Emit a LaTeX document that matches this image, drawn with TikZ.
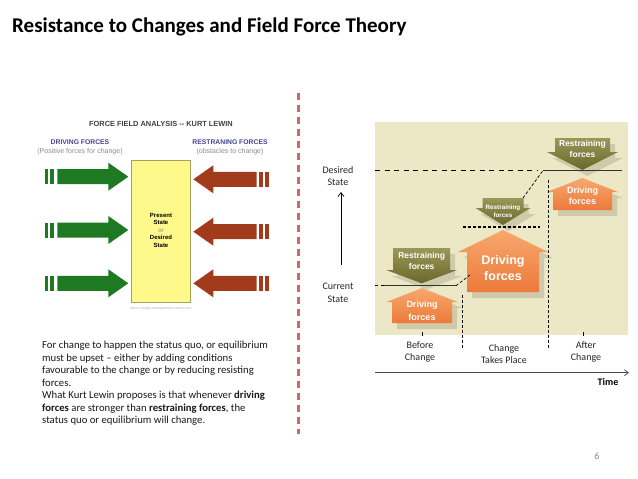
\documentclass[tikz,border=0pt]{standalone}
\usepackage{fontspec}
\setmainfont{Carlito}
\newfontfamily\arialf{Liberation Sans}
\usetikzlibrary{arrows.meta}
\definecolor{redline}{HTML}{CC6A6A}
\definecolor{ffgreen}{HTML}{1E7A22}
\definecolor{ffbrown}{HTML}{A23A1C}
\definecolor{ffblue}{HTML}{45458F}
\definecolor{panel}{HTML}{ECE7C4}
\definecolor{olivetop}{HTML}{9A9858}
\definecolor{olivebot}{HTML}{6A672A}
\definecolor{orangetop}{HTML}{F7A86E}
\definecolor{orangebot}{HTML}{EC7A3A}
\newcommand{\ffdown}[7]{%
  \fill[black,opacity=0.12] ({#1-#2+5},{#4+6}) -- ({#1+#2+5},{#4+6}) -- ({#1+#2+5},{#5+6}) -- ({#1+#3+5},{#5+6}) -- ({#1+5},{#6+6}) -- ({#1-#3+5},{#5+6}) -- ({#1-#2+5},{#5+6}) -- cycle;
  \shade[#7] ({#1-#2},#4) -- ({#1+#2},#4) -- ({#1+#2},#5) -- ({#1+#3},#5) -- (#1,#6) -- ({#1-#3},#5) -- ({#1-#2},#5) -- cycle;}
\newcommand{\ffup}[7]{%
  \fill[black,opacity=0.12] ({#1-#2+5},{#4+6}) -- ({#1+#2+5},{#4+6}) -- ({#1+#2+5},{#5+6}) -- ({#1+#3+5},{#5+6}) -- ({#1+5},{#6+6}) -- ({#1-#3+5},{#5+6}) -- ({#1-#2+5},{#5+6}) -- cycle;
  \shade[#7] ({#1-#2},#4) -- ({#1+#2},#4) -- ({#1+#2},#5) -- ({#1+#3},#5) -- (#1,#6) -- ({#1-#3},#5) -- ({#1-#2},#5) -- cycle;}
\newcommand{\greenarrow}[1]{%
  \fill[ffgreen] (45,{#1-7.5}) rectangle (48.3,{#1+7.5});
  \fill[ffgreen] (50,{#1-7.5}) rectangle (54,{#1+7.5});
  \fill[ffgreen] (57.3,{#1-7.5}) -- (108.3,{#1-7.5}) -- (108.3,{#1-14}) -- (128.3,#1) -- (108.3,{#1+14}) -- (108.3,{#1+7.5}) -- (57.3,{#1+7.5}) -- cycle;}
\newcommand{\brownarrow}[1]{%
  \fill[ffbrown] (265.3,{#1-7.5}) rectangle (269.3,{#1+7.5});
  \fill[ffbrown] (259.3,{#1-7.5}) rectangle (263.3,{#1+7.5});
  \fill[ffbrown] (256.7,{#1-7.5}) -- (213.3,{#1-7.5}) -- (213.3,{#1-14}) -- (193.3,#1) -- (213.3,{#1+14}) -- (213.3,{#1+7.5}) -- (256.7,{#1+7.5}) -- cycle;}
\tikzset{
  restr/.style={top color=olivetop,bottom color=olivebot},
  driv/.style={top color=orangetop,bottom color=orangebot},
  arrtext/.style={text=white,font=\arialf\bfseries,align=center,inner sep=0pt},
  lbl/.style={font=\fontsize{10}{12.5}\selectfont,align=center,inner sep=0pt,text=black!85},
  levelsolid/.style={line width=1.3pt,draw=black!80},
}
\begin{document}
\begin{tikzpicture}[x=1pt,y=-1pt]
\useasboundingbox[fill=white] (0,0) rectangle (638,479);
% title
\node[anchor=west,inner sep=0pt,font=\fontsize{21}{24}\selectfont\bfseries] (title) at (12,27) {Resistance to Changes and Field Force Theory};
% red separator
\draw[redline,line width=2.5pt,dash pattern=on 7pt off 5pt] (298.5,93) -- (298.5,434);
% ---------- left force field image
\node[font=\arialf\bfseries\fontsize{7.4}{8}\selectfont,text=black!75,inner sep=0pt] (fftitle) at (161,124) {FORCE FIELD ANALYSIS -- KURT LEWIN};
\node[font=\arialf\bfseries\fontsize{6.8}{8}\selectfont,text=ffblue,inner sep=0pt] (dfh) at (80,141.7) {DRIVING FORCES};
\node[font=\arialf\fontsize{7}{8}\selectfont,text=black!45,inner sep=0pt] (dfs) at (80,151.7) {(Positive forces for change)};
\node[font=\arialf\bfseries\fontsize{6.8}{8}\selectfont,text=ffblue,inner sep=0pt] (rfh) at (230,141.7) {RESTRANING FORCES};
\node[font=\arialf\fontsize{7}{8}\selectfont,text=black!45,inner sep=0pt] (rfs) at (230,151.7) {(obstacles to change)};
\draw[fill=yellow!45,draw=black!35!yellow!70!gray,line width=0.8pt] (131.7,160.7) rectangle (190,302.7);
\node[font=\arialf\fontsize{6}{7.5}\selectfont,align=center,inner sep=0pt] (state) at (161,230) {\textbf{Present}\\\textbf{State}\\{\color{black!50}or}\\\textbf{Desired}\\\textbf{State}};
\node[font=\arialf\fontsize{3.6}{4}\selectfont,text=black!30,inner sep=0pt] (web) at (161,309) {www.change-management-coach.com};
\greenarrow{176.7}
\greenarrow{230}
\greenarrow{283.3}
\brownarrow{179.3}
\brownarrow{231.7}
\brownarrow{283.3}
% ---------- left text
\node[anchor=north west,align=left,inner sep=0pt,font=\fontsize{10.7}{12.5}\selectfont,text=black!90] (body) at (42,341) {For change to happen the status quo, or equilibrium\\must be upset -- either by adding conditions\\favourable to the change or by reducing resisting\\forces.\\What Kurt Lewin proposes is that whenever \textbf{driving}\\\textbf{forces} are stronger than \textbf{restraining forces}, the\\status quo or equilibrium will change.};
% ---------- right diagram
\fill[panel] (375,122) rectangle (628,335);
% arrows
\ffdown{421.7}{28.5}{35.5}{248}{270}{283.3}{restr}
\ffup{422}{30}{35.5}{323}{302}{288}{driv}
\ffdown{503}{20.5}{27.5}{198}{208}{225}{restr}
\ffup{503}{36}{45}{292}{252}{230}{driv}
\ffdown{582.5}{27.5}{35.5}{138}{152}{170}{restr}
\ffup{582.5}{29.5}{35.5}{210}{192}{178}{driv}
\node[arrtext,font=\arialf\bfseries\fontsize{8.5}{11}\selectfont] (r1) at (421.7,261) {Restraining\\forces};
\node[arrtext,font=\arialf\bfseries\fontsize{9}{13}\selectfont] (d1) at (422,310.5) {Driving\\forces};
\node[arrtext,font=\arialf\bfseries\fontsize{6.3}{8.5}\selectfont] (r2) at (503,211) {Restraining\\forces};
\node[arrtext,font=\arialf\bfseries\fontsize{12.5}{16}\selectfont] (d2) at (503,268) {Driving\\forces};
\node[arrtext,font=\arialf\bfseries\fontsize{8.5}{11}\selectfont] (r3) at (582.5,149) {Restraining\\forces};
\node[arrtext,font=\arialf\bfseries\fontsize{9}{11.5}\selectfont] (d3) at (582.5,196) {Driving\\forces};
% levels
\coordinate (dsl) at (375,170.5);
\coordinate (dsm) at (537,170.5);
\coordinate (dgs) at (523,198);
\coordinate (dge) at (543,170.5);
\coordinate (dse) at (622,170.5);
\draw[line width=1.5pt,dash pattern=on 5pt off 4.5pt] (dsl) -- (dsm);
\draw[line width=0.7pt,dash pattern=on 3pt off 2pt] (dgs) -- (dge);
\draw[levelsolid] (dge) -- (dse);
\coordinate (csl) at (375,285.7);
\coordinate (csm) at (384,285.7);
\coordinate (cse) at (456,285.7);
\coordinate (cge) at (470,275);
\draw[line width=1.5pt,dash pattern=on 3pt off 3pt] (csl) -- (csm);
\draw[levelsolid] (csm) -- (cse);
\draw[line width=0.7pt,dash pattern=on 3pt off 2pt] (cse) -- (cge);
\coordinate (msl) at (463,227.3);
\coordinate (mse) at (540,227.3);
\draw[line width=2pt,dash pattern=on 3pt off 2pt] (msl) -- (mse);
\coordinate (v1t) at (462,295);
\coordinate (v1b) at (462,348);
\coordinate (v2t) at (548,180);
\coordinate (v2b) at (548,350);
\draw[line width=0.7pt,dash pattern=on 3pt off 2pt] (v1t) -- (v1b);
\draw[line width=0.7pt,dash pattern=on 3pt off 2pt] (v2t) -- (v2b);
\coordinate (t1t) at (422.7,332);
\coordinate (t1b) at (422.7,336);
\coordinate (t2t) at (583,332);
\coordinate (t2b) at (583,336);
\draw[line width=0.8pt] (t1t) -- (t1b);
\draw[line width=0.8pt] (t2t) -- (t2b);
% labels
\node[lbl] (des) at (338,176) {Desired\\State};
\node[lbl] (cur) at (338,293) {Current\\State};
\node[lbl] (bef) at (420,352) {Before\\Change};
\node[lbl] (chg) at (504,354) {Change\\Takes Place};
\node[lbl] (aft) at (586,352) {After\\Change};
\node[font=\fontsize{10}{12}\selectfont\bfseries,inner sep=0pt] (time) at (608,382) {Time};
% axes
\coordinate (vab) at (341,265);
\coordinate (vat) at (341,192);
\draw[line width=0.7pt,-{Straight Barb[length=4pt,width=6pt]}] (vab) -- (vat);
\coordinate (tas) at (375,372.7);
\coordinate (tae) at (629,372.7);
\draw[line width=0.7pt,black!70,-{Straight Barb[length=4pt,width=6pt]}] (tas) -- (tae);
% page number
\node[font=\fontsize{10}{12}\selectfont,text=black!45,inner sep=0pt] (pg) at (597,456) {6};
\end{tikzpicture}
\end{document}
